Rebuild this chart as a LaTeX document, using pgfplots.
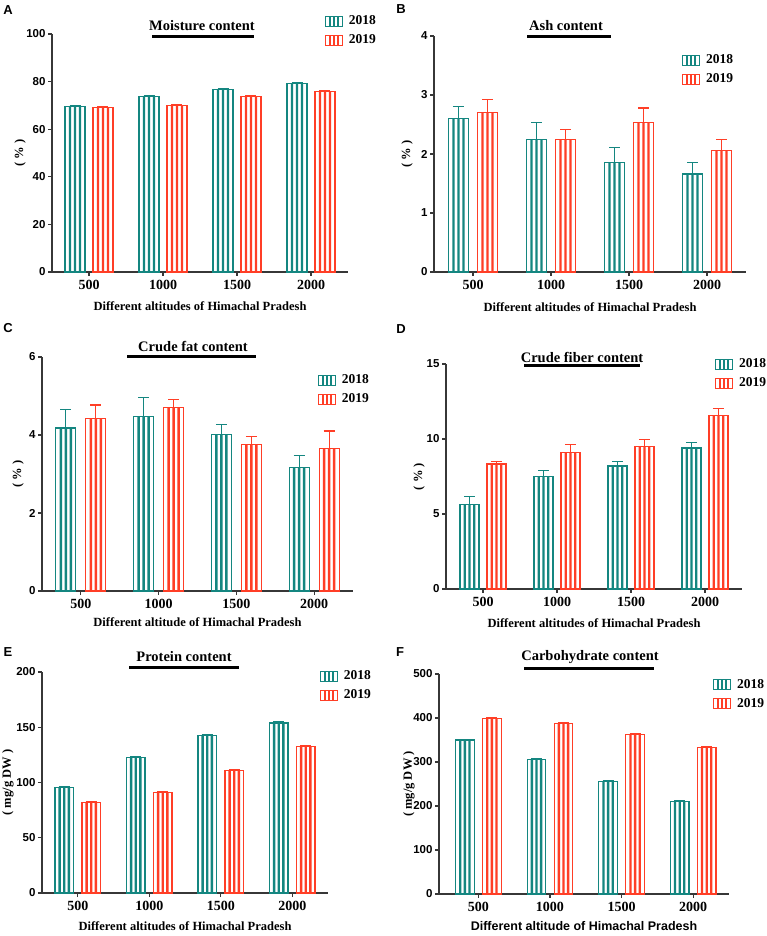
\documentclass[border=0pt]{standalone}
\usepackage{pgfplots}
\usepackage{pgfplotstable}
\pgfplotsset{compat=1.18}
\usepackage{fontspec}
\setmainfont{Liberation Serif}
\setsansfont{Liberation Sans}

\definecolor{tealc}{RGB}{20,134,128}
\definecolor{redc}{RGB}{255,62,38}
\definecolor{axc}{RGB}{55,55,55}

\pgfplotstableread{
x a ae b be
0 69.4 0.5 69.1 0.4
1 73.8 0.4 70.1 0.4
2 76.7 0.4 73.8 0.5
3 79.3 0.4 75.9 0.5
}\tA
\pgfplotstableread{
x a ae b be
0 2.60 0.20 2.71 0.21
1 2.24 0.29 2.24 0.18
2 1.86 0.25 2.54 0.24
3 1.66 0.19 2.06 0.19
}\tB
\pgfplotstableread{
x a ae b be
0 4.18 0.47 4.42 0.35
1 4.47 0.50 4.71 0.20
2 4.01 0.25 3.76 0.20
3 3.17 0.30 3.66 0.44
}\tC
\pgfplotstableread{
x a ae b be
0 5.64 0.51 8.33 0.16
1 7.51 0.38 9.11 0.51
2 8.20 0.29 9.49 0.49
3 9.40 0.35 11.55 0.47
}\tD
\pgfplotstableread{
x a ae b be
0 95.3 1.0 81.5 1.0
1 122.8 1.0 90.8 1.0
2 142.4 1.0 110.9 1.0
3 153.8 1.2 132.2 1.0
}\tE
\pgfplotstableread{
x a ae b be
0 350 2 398.5 2
1 306 2 388 2
2 256 2 361.5 2
3 210.5 2 333 2
}\tF

\newcommand{\legicon}[1]{%
  \draw[#1, line width=1pt, fill=white] (0pt,-5pt) rectangle (17pt,5pt);
  \draw[#1, line width=2.1pt] (4.25pt,-5pt) -- (4.25pt,5pt);
  \draw[#1, line width=2.1pt] (8.5pt,-5pt) -- (8.5pt,5pt);
  \draw[#1, line width=2.1pt] (12.75pt,-5pt) -- (12.75pt,5pt);
}

% #1 table, #2 column, #3 error column, #4 colour, #5 shift (pt), #6 bar width (pt), #7 shift (axis units)
\newcommand{\series}[7]{%
  \addplot[forget plot, draw=none, mark=none,
    error bars/.cd, y dir=plus, y explicit,
    error bar style={draw=#4, line width=1.2pt},
    error mark options={draw=#4, rotate=90, mark size=5.5pt, line width=1.2pt}]
    table[x expr=\thisrow{x}+(#7), y=#2, y error=#3]{#1};
  \addplot[ybar, bar width=#6pt, bar shift=#5pt, draw=#4, fill=white, line width=1.1pt,
    legend image code/.code={\legicon{#4}}]
    table[x=x, y=#2]{#1};
  \addplot[ybar, forget plot, bar width=2.3pt, bar shift=\fpeval{#5-#6/4}pt, fill=#4, draw=none]
    table[x=x, y=#2]{#1};
  \addplot[ybar, forget plot, bar width=2.3pt, bar shift=#5pt, fill=#4, draw=none]
    table[x=x, y=#2]{#1};
  \addplot[ybar, forget plot, bar width=2.3pt, bar shift=\fpeval{#5+#6/4}pt, fill=#4, draw=none]
    table[x=x, y=#2]{#1};
}

\pgfplotsset{
  panel/.style={
    scale only axis, anchor=south west, clip=false,
    axis lines=left, axis line style={-, draw=axc, line width=1.3pt},
    tick style={draw=axc, line width=1.2pt}, major tick length=4pt, tick align=outside,
    xmin=-0.5, xmax=3.5, ymin=0,
    xtick={0,1,2,3}, xticklabels={500,1000,1500,2000},
    xticklabel style={font=\fontsize{14}{14}\selectfont\bfseries, yshift=-1pt},
    yticklabel style={font=\fontsize{11.5}{12}\selectfont\sffamily\bfseries, xshift=1pt},
    /pgf/number format/assume math mode=true,
    every axis x label/.style={at={(axis description cs:0.5,0)}, anchor=center, font=\fontsize{12.5}{13}\selectfont\bfseries},
    every axis y label/.style={at={(axis description cs:0,0.5)}, rotate=90, anchor=center, font=\fontsize{12.5}{13}\selectfont\bfseries},
    legend style={draw=none, fill=none, inner sep=0pt, outer sep=0pt, anchor=north west,
      font=\fontsize{13.5}{14}\selectfont\bfseries, row sep=4.5pt,
      /tikz/every odd column/.append style={column sep=4pt}},
    legend cell align=left,
  },
}

\begin{document}
\begin{tikzpicture}
\path[use as bounding box] (0,0) rectangle (767pt,936pt);

% ---------- A ----------
\begin{axis}[panel, at={(52pt,664pt)}, width=296pt, height=238pt, ymax=100, ytick={0,20,40,60,80,100},
  xlabel={Different altitudes of Himachal Pradesh}, xlabel style={yshift=-34pt},
  ylabel={( \% )}, ylabel style={yshift=32pt},
  legend style={at={(axis description cs:0.922,1.084)}}]
\series{\tA}{a}{ae}{tealc}{-14}{20}{-0.189}
\series{\tA}{b}{be}{redc}{14}{20}{0.189}
\legend{2018,2019}
\end{axis}

% ---------- B ----------
\begin{axis}[panel, at={(434pt,664pt)}, width=312pt, height=236pt, ymax=4, ytick={0,1,2,3,4},
  xlabel={Different altitudes of Himachal Pradesh}, xlabel style={yshift=-35pt},
  ylabel={( \% )}, ylabel style={yshift=27pt},
  legend style={at={(axis description cs:0.795,0.928)}}]
\series{\tB}{a}{ae}{tealc}{-14.5}{20}{-0.186}
\series{\tB}{b}{be}{redc}{14.5}{20}{0.186}
\legend{2018,2019}
\end{axis}

% ---------- C ----------
\begin{axis}[panel, at={(42pt,345pt)}, width=311pt, height=234pt, ymax=6, ytick={0,2,4,6},
  xlabel={Different altitude of Himachal Pradesh}, xlabel style={yshift=-31pt},
  ylabel={( \% )}, ylabel style={yshift=24pt},
  legend style={at={(axis description cs:0.887,0.932)}}]
\series{\tC}{a}{ae}{tealc}{-15}{20}{-0.193}
\series{\tC}{b}{be}{redc}{15}{20}{0.193}
\legend{2018,2019}
\end{axis}

% ---------- D ----------
\begin{axis}[panel, at={(446pt,347pt)}, width=296pt, height=225pt, ymax=15, ytick={0,5,10,15},
  xlabel={Different altitudes of Himachal Pradesh}, xlabel style={yshift=-34pt},
  ylabel={( \% )}, ylabel style={yshift=27pt},
  legend style={at={(axis description cs:0.909,1.031)}}]
\series{\tD}{a}{ae}{tealc}{-13.5}{19}{-0.182}
\series{\tD}{b}{be}{redc}{13.5}{19}{0.182}
\legend{2018,2019}
\end{axis}

% ---------- E ----------
\begin{axis}[panel, at={(42pt,43pt)}, width=286pt, height=221pt, ymax=200, ytick={0,50,100,150,200},
  xlabel={Different altitudes of Himachal Pradesh}, xlabel style={yshift=-33pt},
  ylabel={( mg/g DW )}, ylabel style={yshift=34pt},
  legend style={at={(axis description cs:0.972,1.014)}}]
\series{\tE}{a}{ae}{tealc}{-13.5}{18.5}{-0.189}
\series{\tE}{b}{be}{redc}{13.5}{18.5}{0.189}
\legend{2018,2019}
\end{axis}

% ---------- F ----------
\begin{axis}[panel, at={(439pt,42pt)}, width=290pt, height=220pt, xmin=-0.55, ymax=500, ytick={0,100,200,300,400,500},
  xlabel={Different altitude of Himachal Pradesh},
  xlabel style={yshift=-32pt, font=\fontsize{12.5}{13}\selectfont\sffamily\bfseries},
  ylabel={( mg/g DW )}, ylabel style={yshift=30pt},
  legend style={at={(axis description cs:0.945,0.986)}}]
\series{\tF}{a}{ae}{tealc}{-13.5}{18.5}{-0.189}
\series{\tF}{b}{be}{redc}{13.5}{18.5}{0.189}
\legend{2018,2019}
\end{axis}

% titles
\begin{scope}[every node/.style={font=\fontsize{14.5}{15}\selectfont\bfseries}]
\node at (202pt,910pt) {Moisture content};
\draw[line width=3pt] (152pt,899pt) -- (254pt,899pt);
\node at (566pt,910pt) {Ash content};
\draw[line width=3pt] (527pt,899pt) -- (611pt,899pt);
\node at (193pt,590pt) {Crude fat content};
\draw[line width=3pt] (127pt,579pt) -- (256pt,579pt);
\node at (582pt,579pt) {Crude fiber content};
\draw[line width=3pt] (524pt,570pt) -- (640pt,570pt);
\node at (184pt,279pt) {Protein content};
\draw[line width=3pt] (129pt,268pt) -- (239pt,268pt);
\node at (590pt,279pt) {Carbohydrate content};
\draw[line width=3pt] (524pt,267pt) -- (654pt,267pt);
\end{scope}

% panel letters
\begin{scope}[every node/.style={font=\fontsize{13}{13}\selectfont\sffamily\bfseries}]
\node at (8pt,926pt) {A};
\node at (401pt,927pt) {B};
\node at (8pt,608pt) {C};
\node at (401pt,607pt) {D};
\node at (8pt,284pt) {E};
\node at (400pt,284pt) {F};
\end{scope}
\end{tikzpicture}
\end{document}
